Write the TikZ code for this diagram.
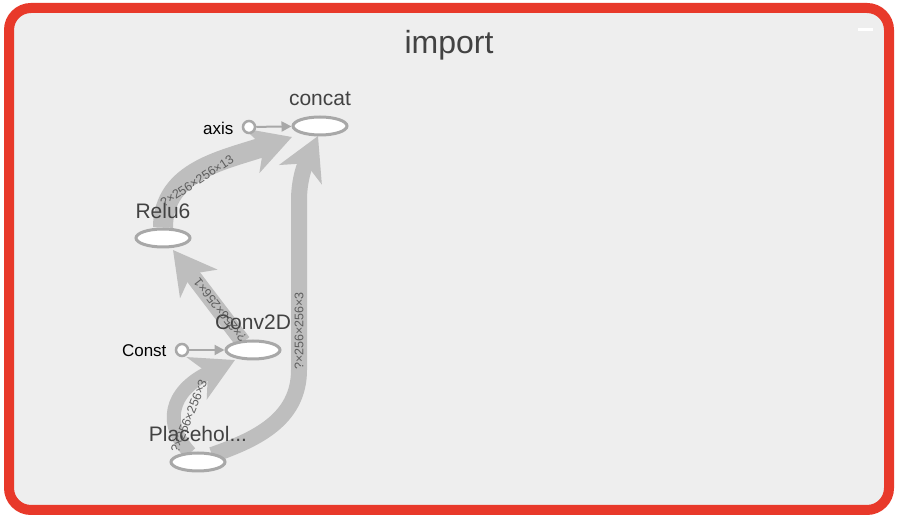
\documentclass[tikz,border=0pt]{standalone}
\usepackage{fontspec}
\setmainfont{Liberation Sans}
\usetikzlibrary{arrows.meta,shapes.geometric,calc,backgrounds}
\definecolor{panelgray}{HTML}{EEEEEE}
\definecolor{framered}{HTML}{E8392A}
\definecolor{edgegray}{HTML}{BEBEBE}
\definecolor{rimgray}{HTML}{A8A8A8}
\definecolor{textgray}{HTML}{424242}
\newcommand{\pxfont}[1]{\fontsize{#1}{#1}\selectfont}

\begin{document}
\begin{tikzpicture}[x=1pt,y=-1pt,
  opnode/.style={ellipse, draw=rimgray, line width=3, fill=white, minimum width=54, minimum height=18, inner sep=0},
  opname/.style={text=textgray, font=\pxfont{21}},
  constnode/.style={circle, draw=rimgray, line width=2.5, fill=white, minimum size=12, inner sep=0},
  constname/.style={text=black, font=\pxfont{17}},
  flow/.style={draw=edgegray, -{Stealth[length=42, width=46, inset=12]}},
  thinflow/.style={draw=rimgray, line width=2, -{Triangle[length=10, width=10]}},
  shape label/.style={text=textgray!85, font=\pxfont{12.5}, inner sep=1}]
\useasboundingbox (0,0) rectangle (898,518);

% operation nodes
\node[opnode] (concat) at (320,126) {};
\node[opname] at (320,99) {concat};
\node[constnode] (axis) at (249,127) {};
\node[constname, anchor=east] at (237,128) {axis};
\node[opnode] (relu) at (163,238) {};
\node[opname] at (163,211) {Relu6};
\node[opnode] (conv) at (253,350) {};
\node[opname] at (253,322) {Conv2D};
\node[constnode] (const) at (182,350) {};
\node[constname, anchor=east] at (170,351) {Const};
\node[opnode] (ph) at (198,462) {};
\node[opname] at (198,434) {Placehol...};

% panel and edges below the nodes
\begin{pgfonlayer}{background}
\fill[white] (0,0) rectangle (898,518);
\draw[framered, line width=10, fill=panelgray, rounded corners=22] (9,8) rectangle (889,510);
\draw[white, line width=3] (858,30) -- (873,30);
\node[text=textgray, font=\pxfont{32}] (title) at (449,45) {import};
\draw[flow, line width=20] (relu.north) .. controls (163,170) and (225,160) .. ($(concat)+(-28,11)$);
\draw[flow, line width=16] ($(ph)+(14,-7)$) .. controls (255,440) and (299,420) .. (299,370)
  -- (299,200) .. controls (299,175) and (308,158) .. ($(concat)+(-2,10)$);
\draw[flow, line width=14] ($(ph)+(-8,-9)$) .. controls (164,425) and (168,392) .. ($(conv)+(-18,10)$);
\draw[flow, line width=16] ($(conv)+(-10,-8)$) -- ($(relu)+(10,12)$);
\end{pgfonlayer}
\draw[thinflow] (axis) -- (concat);
\draw[thinflow] (const) -- (conv);

% shape labels
\node[shape label, rotate=33] at (197,181) {?×256×256×13};
\node[shape label, rotate=128] at (220,310) {?×256×256×1};
\node[shape label, rotate=90] at (299,331) {?×256×256×3};
\node[shape label, rotate=68] at (189,416) {?×256×256×3};
\end{tikzpicture}
\end{document}
